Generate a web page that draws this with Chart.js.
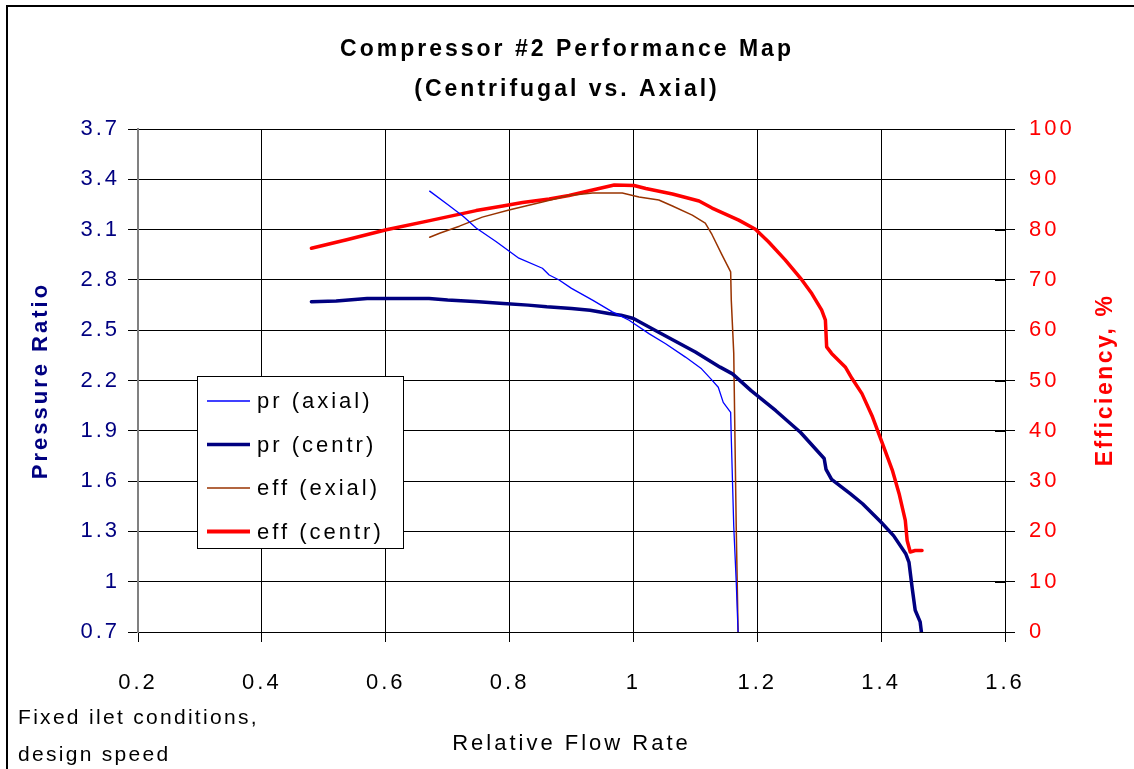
<!DOCTYPE html>
<html>
<head>
<meta charset="utf-8">
<script src="https://cdn.jsdelivr.net/npm/chart.js@4"></script>
<style>
  html, body { margin: 0; padding: 0; background: #fff; }
  #wrap { width: 1134px; height: 769px; }
</style>
</head>
<body>
<div id="wrap"><canvas id="myChart" width="1134" height="769"></canvas></div>
<script>
// axis ticks
const flowTicks = [0.2, 0.4, 0.6, 0.8, 1, 1.2, 1.4, 1.6];
const prTicks = [0.7, 1, 1.3, 1.6, 1.9, 2.2, 2.5, 2.8, 3.1, 3.4, 3.7];
const effTicks = [0, 10, 20, 30, 40, 50, 60, 70, 80, 90, 100];

// pr (axial)
const prAxialFlow = [0.671, 0.70, 0.725, 0.746, 0.778, 0.815, 0.853, 0.864, 0.88, 0.90, 0.934, 0.966, 0.993, 1.025, 1.052, 1.084, 1.11, 1.125, 1.137, 1.145, 1.157, 1.158, 1.162, 1.166, 1.169];
const prAxialRatio = [3.33, 3.25, 3.18, 3.11, 3.03, 2.93, 2.87, 2.83, 2.80, 2.75, 2.68, 2.61, 2.56, 2.48, 2.42, 2.34, 2.27, 2.21, 2.16, 2.07, 2.01, 1.86, 1.33, 1.0, 0.70];

// pr (centr)
const prCentrFlow = [0.48, 0.52, 0.57, 0.62, 0.67, 0.70, 0.75, 0.79, 0.83, 0.86, 0.90, 0.93, 0.96, 0.98, 1.00, 1.04, 1.07, 1.10, 1.14, 1.16, 1.19, 1.23, 1.27, 1.308, 1.311, 1.32, 1.35, 1.37, 1.40, 1.42, 1.44, 1.445, 1.45, 1.455, 1.463, 1.465];
const prCentrRatio = [2.67, 2.675, 2.69, 2.69, 2.69, 2.68, 2.67, 2.66, 2.65, 2.64, 2.63, 2.62, 2.60, 2.59, 2.57, 2.49, 2.43, 2.37, 2.28, 2.24, 2.14, 2.02, 1.89, 1.735, 1.67, 1.61, 1.525, 1.465, 1.355, 1.275, 1.165, 1.115, 0.965, 0.83, 0.76, 0.70];

// eff (exial)
const effAxialFlow = [0.671, 0.687, 0.719, 0.756, 0.799, 0.853, 0.896, 0.934, 0.982, 1.009, 1.041, 1.063, 1.095, 1.116, 1.127, 1.143, 1.157, 1.158, 1.162, 1.166, 1.169];
const effAxialEff = [78.5, 79.3, 80.7, 82.5, 83.9, 85.5, 86.8, 87.3, 87.3, 86.5, 85.9, 84.7, 82.9, 81.3, 79.0, 75.0, 71.6, 66.0, 55.4, 20.9, 0];

// eff (centr)
const effCentrFlow = [0.48, 0.537, 0.601, 0.671, 0.746, 0.789, 0.821, 0.864, 0.896, 0.934, 0.969, 1.001, 1.020, 1.063, 1.106, 1.127, 1.170, 1.197, 1.218, 1.245, 1.272, 1.288, 1.304, 1.310, 1.312, 1.320, 1.342, 1.353, 1.369, 1.386, 1.402, 1.418, 1.429, 1.439, 1.442, 1.447, 1.455, 1.466];
const effCentrEff = [76.3, 78.0, 80.0, 81.8, 83.8, 84.7, 85.4, 86.1, 86.8, 87.9, 88.9, 88.8, 88.2, 87.1, 85.7, 84.3, 81.9, 80.1, 77.6, 74.0, 70.0, 67.3, 64.0, 62.0, 56.7, 55.4, 52.7, 50.4, 47.4, 42.8, 37.5, 32.2, 27.5, 22.2, 18.2, 15.9, 16.2, 16.2];

function pts(xs, ys){
    return xs.map((x, i) => ({x: x, y: ys[i]}));
}

const FONT = "'Liberation Sans', Arial, sans-serif";

// legend box, footnote, right axis title, outer frame
const extras = {
    id: 'extras',
    beforeDraw(chart){
        chart.ctx.letterSpacing = '3px';
    },
    afterDraw(chart){
        const c = chart.ctx;
        c.save();
        c.letterSpacing = '0px';
        c.strokeStyle = '#000';
        c.lineWidth = 2;
        c.strokeRect(7, 6, 1200, 900);

        // secondary axis tick marks also reach inside the plot
        const y1 = chart.scales.y1;
        c.lineWidth = 1;
        c.beginPath();
        effTicks.forEach(v => {
            const py = Math.round(y1.getPixelForValue(v)) + 0.5;
            c.moveTo(y1.left - 10, py);
            c.lineTo(y1.left, py);
        });
        c.stroke();

        // legend
        c.fillStyle = '#fff';
        c.fillRect(197, 376, 206, 172);
        c.strokeRect(197.5, 376.5, 206, 172);
        c.font = '22px ' + FONT;
        c.letterSpacing = '3px';
        c.textBaseline = 'middle';
        c.textAlign = 'left';
        chart.data.datasets.forEach((ds, i) => {
            const y = 401 + i * 43.5;
            c.strokeStyle = ds.borderColor;
            c.lineWidth = ds.legendWidth;
            c.beginPath();
            c.moveTo(207, y);
            c.lineTo(250, y);
            c.stroke();
            c.fillStyle = '#000';
            c.fillText(ds.label, 257, y + 1);
        });

        // footnote
        c.font = '21px ' + FONT;
        c.letterSpacing = '2.3px';
        c.fillText('Fixed ilet conditions,', 18, 718);
        c.fillText('design speed', 18, 755);

        // right axis title
        c.translate(1106, 380);
        c.rotate(-Math.PI / 2);
        c.textAlign = 'center';
        c.fillStyle = '#ff0000';
        c.font = 'bold 23px ' + FONT;
        c.letterSpacing = '2.5px';
        c.fillText('Efficiency, %', 0, 0);
        c.restore();
    }
};

const ctx = document.getElementById('myChart').getContext('2d');
let myChart = new Chart(ctx, {
    type: 'line',
    data: {
        datasets: [{
            label: 'pr (axial)',
            data: pts(prAxialFlow, prAxialRatio),
            borderColor: '#0000ff',
            borderWidth: 1.3,
            legendWidth: 1.5,
            yAxisID: 'y'
        }, {
            label: 'pr (centr)',
            data: pts(prCentrFlow, prCentrRatio),
            borderColor: '#000080',
            borderWidth: 3.5,
            legendWidth: 3.5,
            yAxisID: 'y'
        }, {
            label: 'eff (exial)',
            data: pts(effAxialFlow, effAxialEff),
            borderColor: '#993300',
            borderWidth: 1.5,
            legendWidth: 1.5,
            yAxisID: 'y1'
        }, {
            label: 'eff (centr)',
            data: pts(effCentrFlow, effCentrEff),
            borderColor: '#ff0000',
            borderWidth: 3.5,
            legendWidth: 4,
            yAxisID: 'y1'
        }]
    },
    options: {
        responsive: false,
        animation: false,
        devicePixelRatio: 1,
        layout: { padding: 0 },
        elements: {
            point: { radius: 0 },
            line: { tension: 0, borderJoinStyle: 'round', borderCapStyle: 'round' }
        },
        plugins: {
            legend: { display: false },
            tooltip: { enabled: false },
            title: {
                display: true,
                text: ['Compressor #2 Performance Map', '(Centrifugal vs. Axial)'],
                color: '#000',
                font: { family: FONT, size: 23, weight: 'bold', lineHeight: 1.72 },
                padding: { top: 30, bottom: 20 }
            }
        },
        scales: {
            x: {
                type: 'linear',
                min: 0.2,
                max: 1.6,
                afterBuildTicks: s => { s.ticks = flowTicks.map(v => ({value: v})); },
                afterFit: s => { s.height = 137; },
                ticks: {
                    autoSkip: false,
                    maxRotation: 0,
                    color: '#000',
                    padding: 28,
                    font: { family: FONT, size: 22 },
                    callback: v => String(v)
                },
                grid: { color: '#000', lineWidth: 1, tickLength: 10 },
                border: { color: '#000', width: 1 },
                title: {
                    display: true,
                    text: 'Relative Flow Rate',
                    color: '#000',
                    font: { family: FONT, size: 22 },
                    padding: { top: 0, bottom: 12 }
                }
            },
            y: {
                position: 'left',
                min: 0.7,
                max: 3.7,
                afterBuildTicks: s => { s.ticks = prTicks.map(v => ({value: v})); },
                afterFit: s => { s.width = 138; },
                ticks: {
                    color: '#000080',
                    padding: 8,
                    font: { family: FONT, size: 22 },
                    callback: v => String(v)
                },
                grid: { color: '#000', lineWidth: 1, tickLength: 10 },
                border: { color: '#808080', width: 2 },
                title: {
                    display: true,
                    text: 'Pressure Ratio',
                    color: '#000080',
                    font: { family: FONT, size: 22, weight: 'bold' },
                    padding: { top: 28, bottom: 0 }
                }
            },
            y1: {
                position: 'right',
                min: 0,
                max: 100,
                afterBuildTicks: s => { s.ticks = effTicks.map(v => ({value: v})); },
                afterFit: s => { s.width = 129; },
                ticks: {
                    color: '#ff0000',
                    padding: 14,
                    font: { family: FONT, size: 22 },
                    callback: v => String(v)
                },
                grid: { drawOnChartArea: false, color: '#000', tickLength: 10 },
                border: { color: '#000', width: 1 }
            }
        }
    },
    plugins: [extras]
});
</script>
</body>
</html>
